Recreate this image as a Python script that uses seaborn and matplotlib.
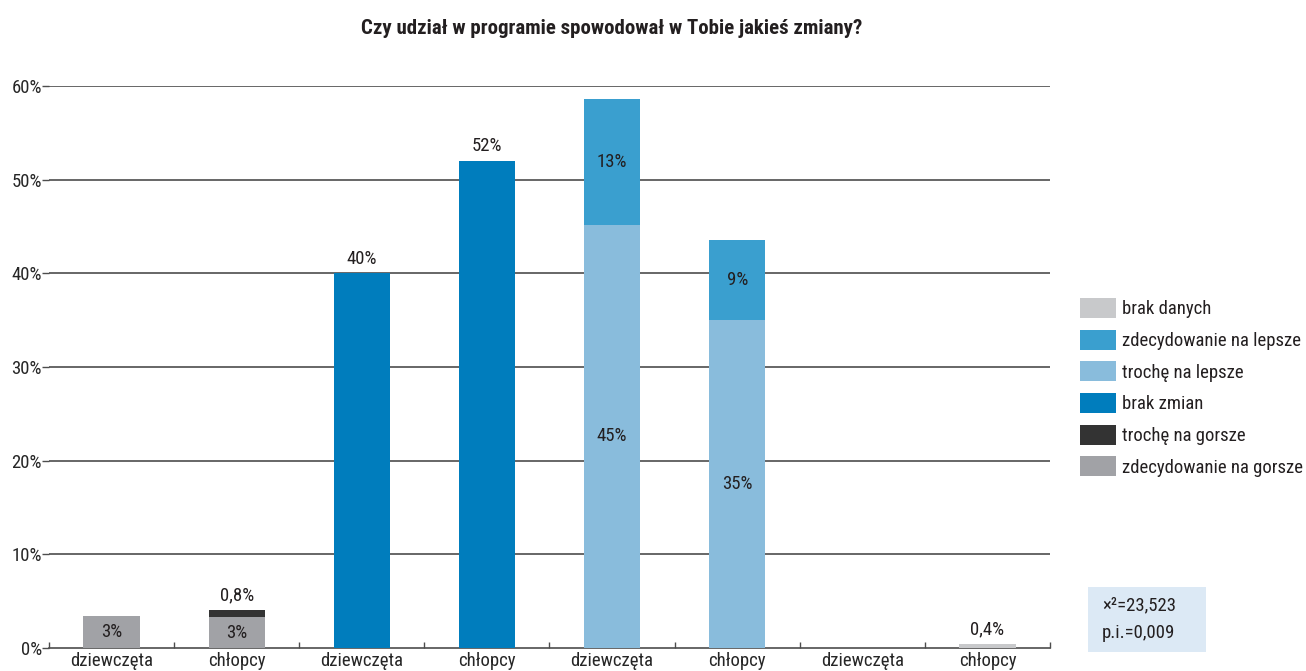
import matplotlib
matplotlib.use("Agg")
import matplotlib.pyplot as plt
import seaborn as sns
import pandas as pd
from matplotlib.patches import Patch, Rectangle
from matplotlib.ticker import FixedLocator

# Categories (two bars per answer group)
categories = ["dziewczęta", "chłopcy", "dziewczęta", "chłopcy",
              "dziewczęta", "chłopcy", "dziewczęta", "chłopcy"]

# Series values in %, one entry per bar (stacking order bottom -> top)
zdecydowanie_na_gorsze = [3.4, 3.3, 0, 0, 0, 0, 0, 0]
troche_na_gorsze = [0, 0.8, 0, 0, 0, 0, 0, 0]
brak_zmian = [0, 0, 40, 52, 0, 0, 0, 0]
troche_na_lepsze = [0, 0, 0, 0, 45.2, 35.0, 0, 0]
zdecydowanie_na_lepsze = [0, 0, 0, 0, 13.4, 8.6, 0, 0]
brak_danych = [0, 0, 0, 0, 0, 0, 0, 0.4]

series_names = ["zdecydowanie na gorsze", "trochę na gorsze", "brak zmian",
                "trochę na lepsze", "zdecydowanie na lepsze", "brak danych"]
series_values = [zdecydowanie_na_gorsze, troche_na_gorsze, brak_zmian,
                 troche_na_lepsze, zdecydowanie_na_lepsze, brak_danych]
series_colors = ["#a1a2a6", "#333333", "#007dbd", "#89bcdc", "#3a9fcf", "#c8c9cb"]
# where each series' value label goes
label_pos = ["inside", "above", "above", "inside", "inside", "above"]

y_ticks = [0, 10, 20, 30, 40, 50, 60]
title = "Czy udział w programie spowodował w Tobie jakieś zmiany?"
stats_lines = ["×²=23,523", "p.i.=0,009"]

sns.set_theme(style="white")
plt.rcParams["font.family"] = ["Liberation Sans Narrow", "Roboto Condensed",
                               "Liberation Sans", "DejaVu Sans"]
plt.rcParams["text.color"] = "#231f20"
FS = 13.5

fig = plt.figure(figsize=(13.06, 6.71), dpi=100)
ax = fig.add_axes([0.0375, 0.0343, 0.7665, 0.8375])

ids = [str(i) for i in range(len(categories))]
bottoms = [0.0] * len(categories)
bar_w = 0.45
for name, vals, col, lp in zip(series_names, series_values, series_colors, label_pos):
    df = pd.DataFrame({"id": ids, "val": vals, "bottom": bottoms})
    sns.barplot(data=df, x="id", y="val", order=ids, color=col, width=bar_w,
                bottom=df["bottom"].values, errorbar=None, linewidth=0,
                saturation=1, ax=ax, zorder=3)
    for i, v in enumerate(vals):
        if v <= 0:
            continue
        txt = (f"{v:.1f}".replace(".", ",") if v < 1 else f"{round(v):d}") + "%"
        if lp == "inside":
            ax.text(i, bottoms[i] + v / 2, txt, ha="center", va="center",
                    fontsize=FS, color="#231f20", zorder=5)
        else:
            ax.text(i, bottoms[i] + v + 0.6, txt, ha="center", va="bottom",
                    fontsize=FS, color="#231f20", zorder=5)
    bottoms = [b + v for b, v in zip(bottoms, vals)]

ax.set_xlim(-0.5, len(categories) - 0.5)
ax.set_ylim(0, 60)
ax.set_xlabel("")
ax.set_ylabel("")

# horizontal grid lines
for t in y_ticks[1:]:
    ax.axhline(t, color="#4d4d4d", lw=1.2, zorder=1)

ax.set_yticks(y_ticks)
ax.set_yticklabels([f"{t}%" for t in y_ticks], fontsize=FS)
ax.tick_params(axis="y", length=5, width=1, color="#4d4d4d", pad=0, left=True)

ax.set_xticks(range(len(categories)))
ax.set_xticklabels(categories, fontsize=FS)
ax.tick_params(axis="x", which="major", length=0, pad=3)
ax.xaxis.set_minor_locator(FixedLocator([i - 0.5 for i in range(len(categories) + 1)]))
ax.tick_params(axis="x", which="minor", length=4, width=1, color="#4d4d4d",
               direction="in", bottom=True)

for s in ["left", "right", "top"]:
    ax.spines[s].set_visible(False)
ax.spines["bottom"].set_color("#4d4d4d")
ax.spines["bottom"].set_linewidth(1.2)

fig.text(612 / 1306, 1 - 28 / 671, title, ha="center", va="center",
         fontsize=15, fontweight="bold", color="#231f20")

# legend (top entry: brak danych)
handles = [Patch(facecolor=c, edgecolor="none", label=n)
           for n, c in zip(series_names[::-1], series_colors[::-1])]
fig.legend(handles=handles, loc="upper left", bbox_to_anchor=(1080 / 1306, 1 - 298 / 671),
           frameon=False, fontsize=FS, handlelength=1.92, handleheight=1.28,
           handletextpad=0.32, labelspacing=0.6, borderaxespad=0, borderpad=0)

# statistics box
fig.patches.append(Rectangle((1088 / 1306, 1 - 652 / 671), 118 / 1306, 65 / 671,
                             transform=fig.transFigure, facecolor="#dce9f5",
                             edgecolor="none", zorder=0))
fig.text(1102 / 1306, 1 - 605 / 671, stats_lines[0], ha="left", va="center",
         fontsize=FS, color="#231f20")
fig.text(1102 / 1306, 1 - 633 / 671, stats_lines[1], ha="left", va="center",
         fontsize=FS, color="#231f20")

fig.savefig("out.png", dpi=100)
